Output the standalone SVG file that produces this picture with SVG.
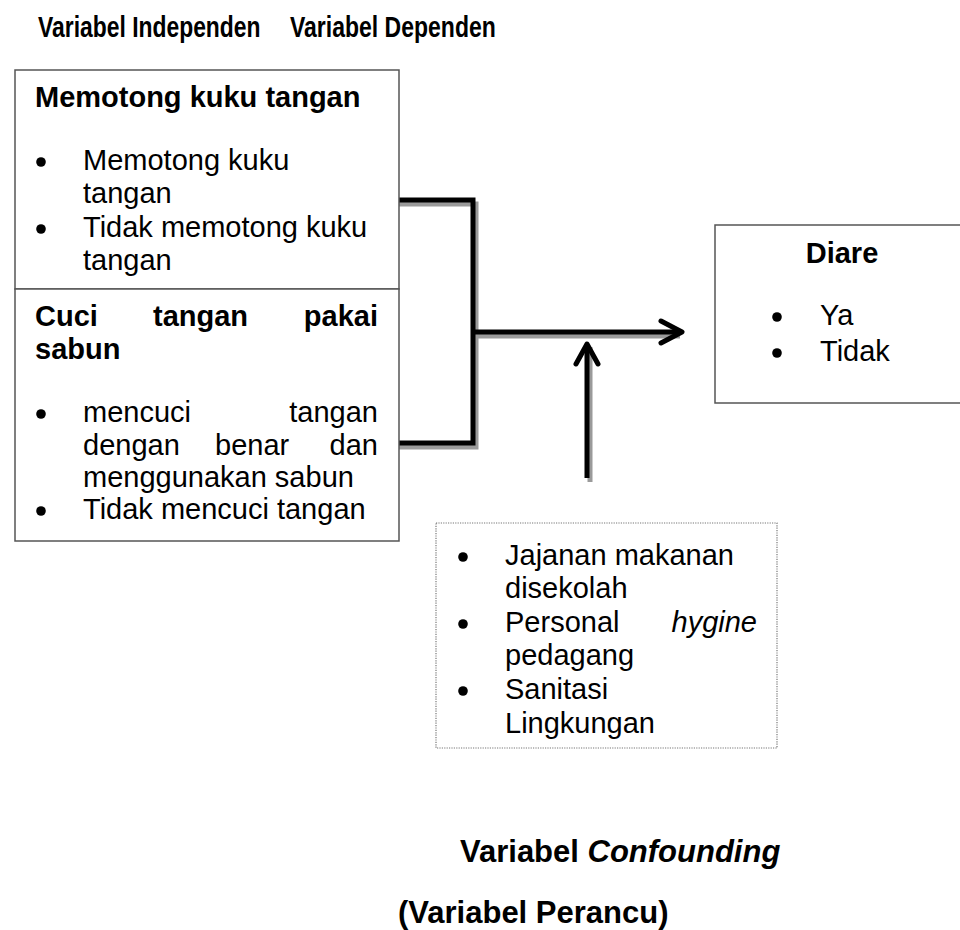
<svg xmlns="http://www.w3.org/2000/svg" width="960" height="930" viewBox="0 0 960 930">
<defs>
<style>
text{font-family:"Liberation Sans",Arial,sans-serif;fill:#000}
.t{font-size:30px;font-weight:bold}
.h{font-size:29px;font-weight:bold}
.b{font-size:29px}
.lbl{font-size:31px;font-weight:bold}
.box{fill:#fff;stroke:#555;stroke-width:1.5}
.dot{fill:#fff;stroke:#777;stroke-width:1.2;stroke-dasharray:1.2 1.2}
.ln{fill:none;stroke:#000;stroke-width:5;stroke-linejoin:miter}
.sh{fill:none;stroke:#9a9a9a;stroke-width:5;stroke-linejoin:miter}
.ah{fill:none;stroke:#000;stroke-width:5;stroke-linecap:round;stroke-linejoin:round}
</style>
<clipPath id="cc"><rect x="436" y="523" width="341" height="216"/></clipPath>
</defs>
<g id="titles">
<text class="t" transform="translate(38,37) scale(0.763,1)">Variabel Independen</text>
<text class="t" transform="translate(290,37) scale(0.767,1)">Variabel Dependen</text>
</g>
<g id="connectors">
<path class="sh" d="M399,204 H476 V447 H399"/>
<path class="sh" d="M476,336 H680"/>
<path class="sh" d="M590,347 V482"/>
<path class="ln" d="M399,200 H473 V443 H399"/>
<path class="ln" d="M473,332 H681"/>
<polyline class="ah" points="661,321 682,332 661,343"/>
<path class="ln" d="M587,345 V478"/>
<polyline class="ah" points="576,364 587,344 598,364"/>
</g>
<g id="node-kuku">
<rect class="box" x="15" y="70" width="384" height="219"/>
<text class="h" x="35" y="107">Memotong kuku tangan</text>
<circle cx="41" cy="162" r="4.8"/>
<text class="b" x="83" y="170">Memotong kuku</text>
<text class="b" x="83" y="203">tangan</text>
<circle cx="41" cy="229" r="4.8"/>
<text class="b" x="83" y="237">Tidak memotong kuku</text>
<text class="b" x="83" y="270">tangan</text>
</g>
<g id="node-cuci">
<rect class="box" x="15" y="289" width="384" height="252"/>
<text class="h" x="35" y="326">Cuci</text>
<text class="h" x="153" y="326">tangan</text>
<text class="h" x="378" y="326" text-anchor="end">pakai</text>
<text class="h" x="35" y="359">sabun</text>
<circle cx="41" cy="414" r="4.8"/>
<text class="b" x="83" y="422">mencuci</text>
<text class="b" x="378" y="422" text-anchor="end">tangan</text>
<text class="b" x="83" y="455">dengan</text>
<text class="b" x="215" y="455">benar</text>
<text class="b" x="378" y="455" text-anchor="end">dan</text>
<text class="b" x="83" y="487">menggunakan sabun</text>
<circle cx="41" cy="511" r="4.8"/>
<text class="b" x="83" y="519">Tidak mencuci tangan</text>
</g>
<g id="node-diare">
<rect class="box" x="715" y="225" width="260" height="178"/>
<text class="h" x="842" y="263" text-anchor="middle">Diare</text>
<circle cx="777" cy="317" r="4.8"/>
<text class="b" x="820" y="325">Ya</text>
<circle cx="777" cy="353" r="4.8"/>
<text class="b" x="820" y="361">Tidak</text>
</g>
<g id="node-confounding">
<rect class="dot" x="436" y="523" width="341" height="225"/>
<g clip-path="url(#cc)">
<circle cx="463" cy="557" r="4.8"/>
<text class="b" x="505" y="565">Jajanan makanan</text>
<text class="b" x="505" y="598">disekolah</text>
<circle cx="463" cy="624" r="4.8"/>
<text class="b" x="505" y="632">Personal</text>
<text class="b" x="757" y="632" text-anchor="end" font-style="italic">hygine</text>
<text class="b" x="505" y="665">pedagang</text>
<circle cx="463" cy="691" r="4.8"/>
<text class="b" x="505" y="699">Sanitasi</text>
<text class="b" x="505" y="733">Lingkungan</text>
</g>
</g>
<g id="labels">
<text class="lbl" x="460" y="862">Variabel <tspan font-style="italic">Confounding</tspan></text>
<text class="lbl" x="398" y="923">(Variabel Perancu)</text>
</g>
</svg>
